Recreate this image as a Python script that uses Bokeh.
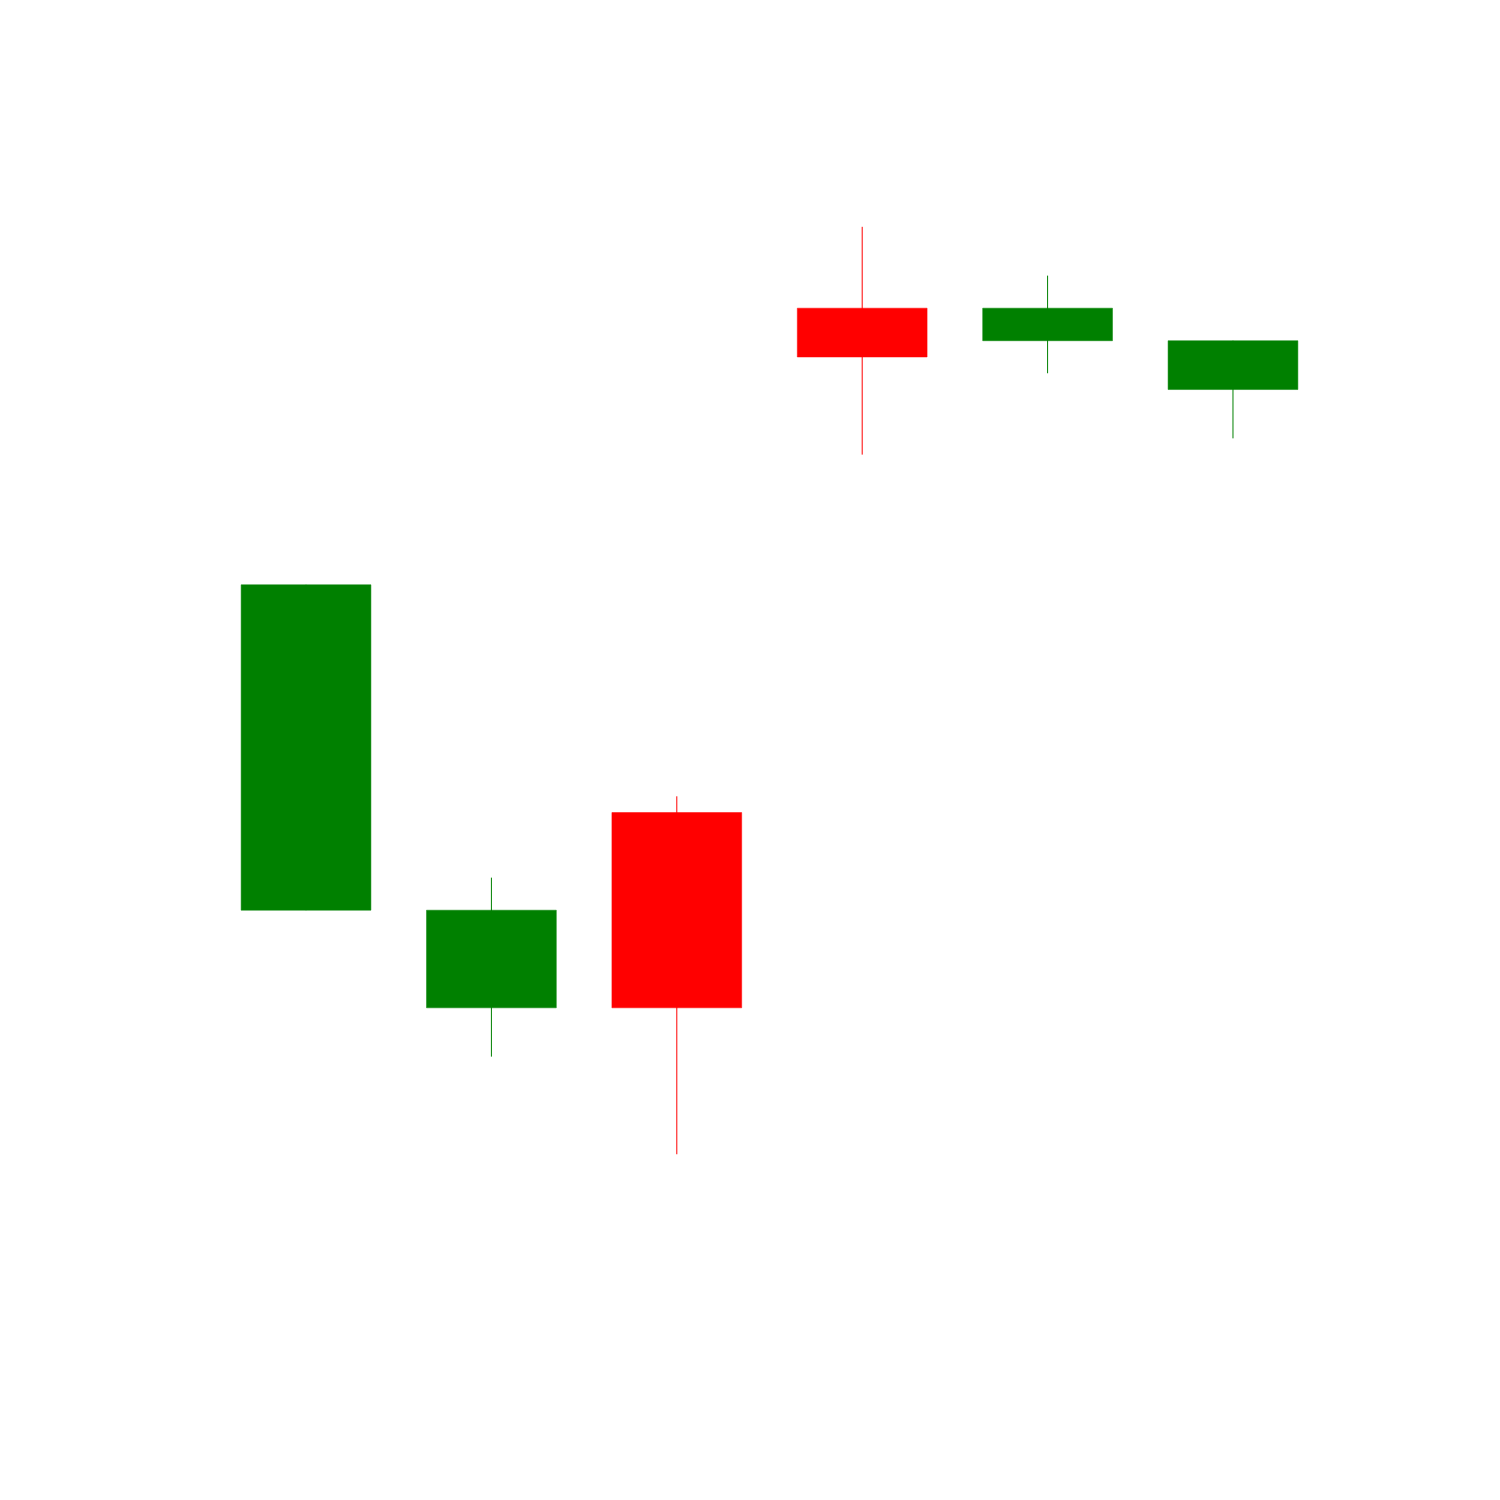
from bokeh.plotting import figure
from bokeh.models import ColumnDataSource, Range1d
from bokeh.embed import file_html
from bokeh.resources import INLINE

# Data
index = [0, 1, 2, 3, 4, 5]
opens = [63, 57, 69, 100, 98, 95]
closes = [83, 63, 57, 97, 100, 98]
highs = [83, 65, 70, 105, 102, 98]
lows = [63, 54, 48, 91, 96, 92]

UP = "#008000"
DOWN = "#ff0000"

colors = [UP if c >= o else DOWN for o, c in zip(opens, closes)]
tops = [max(o, c) for o, c in zip(opens, closes)]
bottoms = [min(o, c) for o, c in zip(opens, closes)]

src = ColumnDataSource(dict(x=index, open=opens, close=closes, high=highs, low=lows,
                            top=tops, bottom=bottoms, color=colors))

p = figure(width=1500, height=1500, output_backend="svg", toolbar_location=None,
           x_range=Range1d(-1.648, 6.443), y_range=Range1d(26.72, 118.91),
           min_border=0, min_border_left=0, min_border_right=0,
           min_border_top=0, min_border_bottom=0)
p.axis.visible = False
p.grid.visible = False
p.outline_line_color = None
p.background_fill_color = "white"
p.border_fill_color = "white"

p.segment(x0="x", y0="high", x1="x", y1="low", source=src, line_color="color", line_width=1)
p.vbar(x="x", width=0.7, top="top", bottom="bottom", source=src,
       fill_color="color", line_color="color", line_width=0.5)

open("out.html", "w").write(file_html(p, INLINE))
